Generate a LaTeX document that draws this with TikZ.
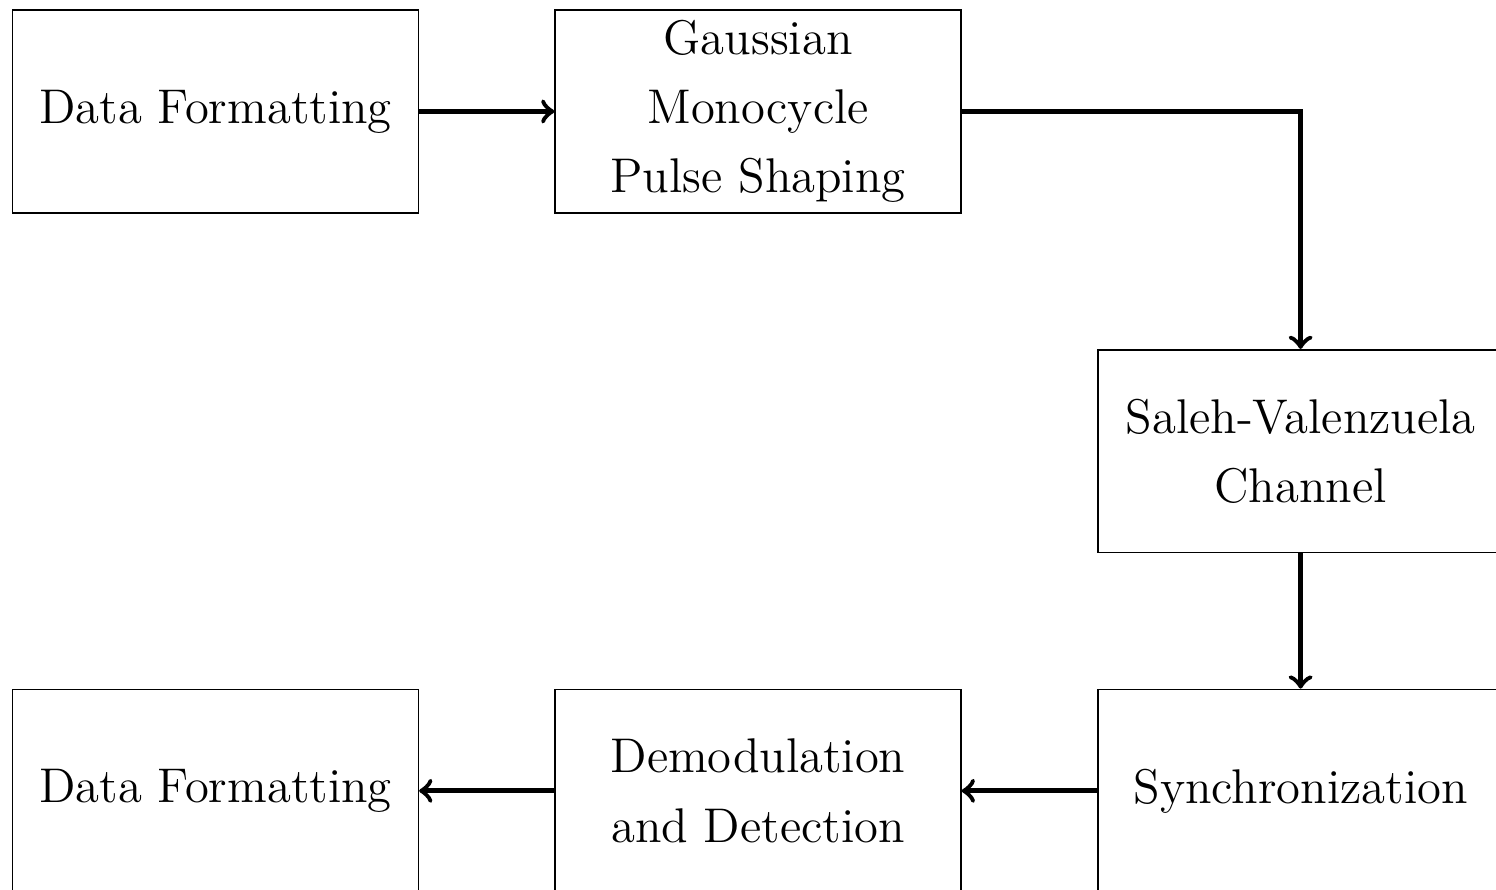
\documentclass[tikz,border=0pt,12pt]{standalone}
\usepackage{tikz}
\usetikzlibrary{arrows}
\usetikzlibrary{positioning}
\tikzset{
    block/.style={draw=black, rectangle, align=center,
        font=\fontsize{12.3}{17.5}\selectfont,
        minimum width=3.6cm, minimum height=1.8cm, inner sep=2pt},
    link/.style={draw=black, very thick, ->},
}
\begin{document}
\begin{tikzpicture}
	\useasboundingbox (0,0) rectangle (13.274,-7.897);
	% transmitter side
	\node[block] (txfmt) at (1.912,-0.989) {Data Formatting};
	\node[block, right=1.2cm of txfmt] (pulse) {Gaussian\\Monocycle\\Pulse Shaping};
	% channel
	\node[block, below right=1.2cm and 1.2cm of pulse] (chan) {Saleh-Valenzuela\\Channel};
	% receiver side
	\node[block, below=1.2cm of chan] (sync) {Synchronization};
	\node[block, left=1.2cm of sync] (demod) {Demodulation\\and Detection};
	\node[block, left=1.2cm of demod] (rxfmt) {Data Formatting};
	\draw[link] (txfmt) -- (pulse);
	\draw[link] (pulse.east) -| (chan.north);
	\draw[link] (chan) -- (sync);
	\draw[link] (sync) -- (demod);
	\draw[link] (demod) -- (rxfmt);
\end{tikzpicture}
\end{document}
